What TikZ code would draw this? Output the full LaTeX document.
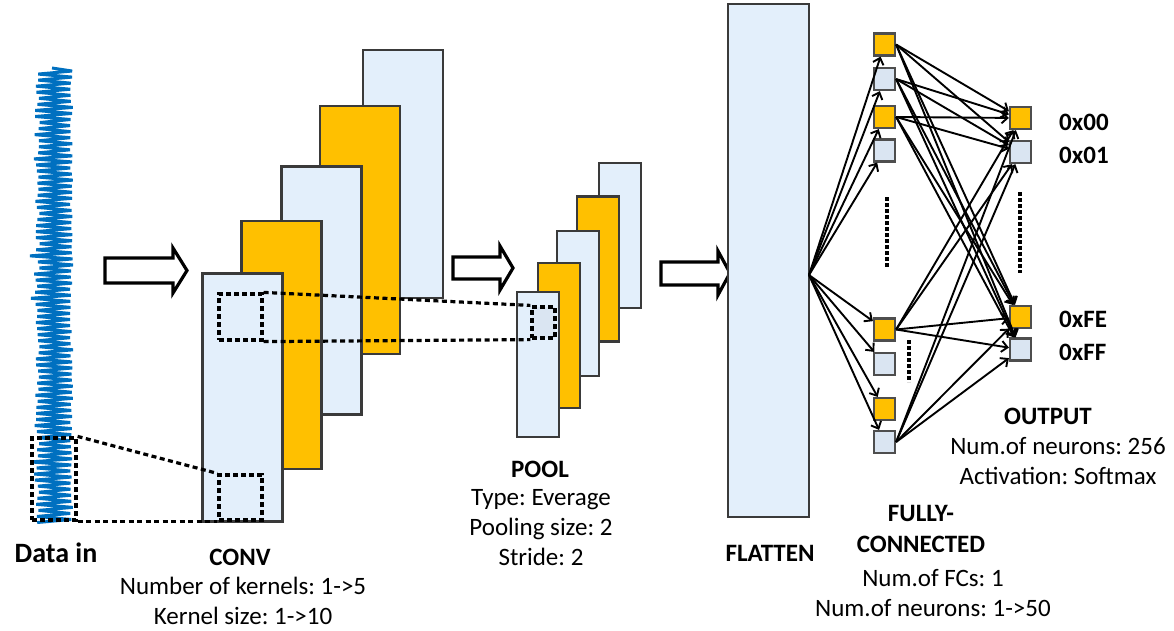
\documentclass[tikz,border=0pt]{standalone}
\usepackage{fontspec}
\setmainfont{Carlito}
\usetikzlibrary{arrows.meta}

\definecolor{gold}{HTML}{FFC000}
\definecolor{paleblue}{HTML}{E3EFFB}
\definecolor{cellblue}{HTML}{DAE5F2}
\definecolor{edgegray}{HTML}{3A3A3A}
\definecolor{signal}{HTML}{0070C0}

\begin{document}
\frenchspacing
\begin{tikzpicture}[x=1pt,y=-1pt,
  plate/.style={draw=edgegray, line width=2.6pt, inner sep=0pt, fill=#1},
  convmap/.style={plate=#1, minimum width=80pt, minimum height=248pt},
  poolmap/.style={plate=#1, minimum width=42pt, minimum height=145pt},
  cell/.style={draw=edgegray!90, line width=2.2pt, inner sep=0pt, fill=#1,
               minimum width=21pt, minimum height=22pt},
  window/.style={draw=black, line width=3.2pt, dash pattern=on 5pt off 3pt, inner sep=0pt},
  guide/.style={draw=black, line width=3.2pt, dash pattern=on 5pt off 3.5pt},
  link/.style={line width=1.9pt, -{Straight Barb[length=6pt,width=11pt,line width=1.9pt]}},
  dots/.style={line width=3.6pt, dash pattern=on 3.5pt off 2.5pt},
  blockarrow/.style={draw=black, line width=3.2pt, fill=white, line join=miter},
  title/.style={font=\fontsize{25}{31}\selectfont\bfseries, align=center, inner sep=0pt},
  info/.style={font=\fontsize{25}{30}\selectfont, align=center, inner sep=0pt},
  tag/.style={font=\fontsize{25}{30}\selectfont\bfseries, anchor=west, inner sep=0pt}]

\useasboundingbox (0,0) rectangle (1174,630);

% ---- input signal ----
\pgfmathsetseed{11}
\draw[signal, line width=3pt, line join=miter, miter limit=3]
  (52,68) \foreach \i in {1,...,150} {
    -- ({isodd(\i) ? 70+3*rnd : 35+5*rnd-5*(rnd>0.88)}, {68+\i*3.03}) };
\node[window, minimum width=44pt, minimum height=82pt] (dwin) at (54,479) {};

% ---- convolution feature maps (back to front) ----
\node[convmap=paleblue] (c5) at (403,174) {};
\node[convmap=gold]     (c4) at (360,230) {};
\node[convmap=paleblue] (c3) at (321.5,290.5) {};
\node[convmap=gold]     (c2) at (281.5,345) {};
\node[convmap=paleblue] (c1) at (242.5,397.5) {};
\node[window, minimum width=43pt, minimum height=46pt] (kw2) at (240.5,317) {};
\node[window, minimum width=43pt, minimum height=45pt] (kw1) at (240.5,497.5) {};

% ---- pooling maps (back to front) ----
\node[poolmap=paleblue] (p5) at (620,235.5) {};
\node[poolmap=gold]     (p4) at (598,269) {};
\node[poolmap=paleblue] (p3) at (578,303.5) {};
\node[poolmap=gold]     (p2) at (559,335.5) {};
\node[poolmap=paleblue] (p1) at (538,364.5) {};
\node[window, fill=cellblue, minimum width=23pt, minimum height=31pt] (pw) at (543.5,322.5) {};

% ---- receptive-field guides ----
\draw[guide] (dwin.north east) -- (kw1.north west);
\draw[guide] (dwin.south east) -- (kw1.south west);
\draw[guide] (kw2.north east) -- (pw.north west);
\draw[guide] (kw2.south east) -- (pw.south west);

% ---- stage arrows ----
\draw[blockarrow] (105,258) -- (173,258) -- (173,248) -- (187,270.5) -- (173,293) -- (173,283) -- (105,283) -- cycle;
\draw[blockarrow] (453,257) -- (500,257) -- (500,246) -- (513,268) -- (500,290) -- (500,279) -- (453,279) -- cycle;
\draw[blockarrow] (661,262) -- (718,262) -- (718,251) -- (730,273) -- (718,295) -- (718,285) -- (661,285) -- cycle;

% ---- flatten ----
\node[plate=paleblue, minimum width=81pt, minimum height=513pt] (flat) at (768.5,260.5) {};
\coordinate (F) at (809,275);

% ---- fully-connected layer ----
\node[cell=gold]     (n1) at (884.5,44.5) {};
\node[cell=cellblue] (n2) at (884.5,79) {};
\node[cell=gold]     (n3) at (884.5,117) {};
\node[cell=cellblue] (n4) at (884.5,150.5) {};
\node[cell=gold]     (n5) at (884.5,329.5) {};
\node[cell=cellblue] (n6) at (884.5,364) {};
\node[cell=gold]     (n7) at (884.5,409) {};
\node[cell=cellblue] (n8) at (884.5,442) {};

% ---- output layer ----
\node[cell=gold]     (o1) at (1020.5,118) {};
\node[cell=cellblue] (o2) at (1020.5,152) {};
\node[cell=gold]     (o3) at (1020.5,317) {};
\node[cell=cellblue] (o4) at (1020.5,349.5) {};

% ---- connections ----
\foreach \n in {n1,n2,n3,n4,n5,n6,n7,n8}
  \draw[link] (F) -- (\n);
\foreach \s in {n1,n2,n3,n5,n8}
  \foreach \t in {o1,o2,o3,o4}
    \draw[link] (\s.east) -- (\t);

% ---- ellipsis marks ----
\draw[dots] (887,197) -- (887,268);
\draw[dots] (909,340) -- (909,382);
\draw[dots] (1020,192) -- (1020,273);

% ---- output codes ----
\node[tag] (l00) at (1059,122) {0x00};
\node[tag] (l01) at (1059,155) {0x01};
\node[tag] (lfe) at (1059,319) {0xFE};
\node[tag] (lff) at (1059,352) {0xFF};

% ---- captions ----
\node[title, font=\fontsize{28}{32}\selectfont\bfseries] (datain) at (56,553) {Data in};
\node[title] (convt) at (240,557) {CONV};
\node[info]  (convi) at (243,601) {Number of kernels: 1->5\\Kernel size: 1->10};
\node[title] (poolt) at (540,469) {POOL};
\node[info]  (pooli) at (541,528) {Type: Everage\\Pooling size: 2\\Stride: 2};
\node[title] (flatt) at (770,553) {FLATTEN};
\node[title] (fct)   at (921,529) {FULLY-\\CONNECTED};
\node[info]  (fci)   at (933,593) {Num.of FCs: 1\\Num.of neurons: 1->50};
\node[title] (outt)  at (1048,416) {OUTPUT};
\node[info]  (outi)  at (1058,461) {Num.of neurons: 256\\Activation: Softmax};
\end{tikzpicture}
\end{document}
